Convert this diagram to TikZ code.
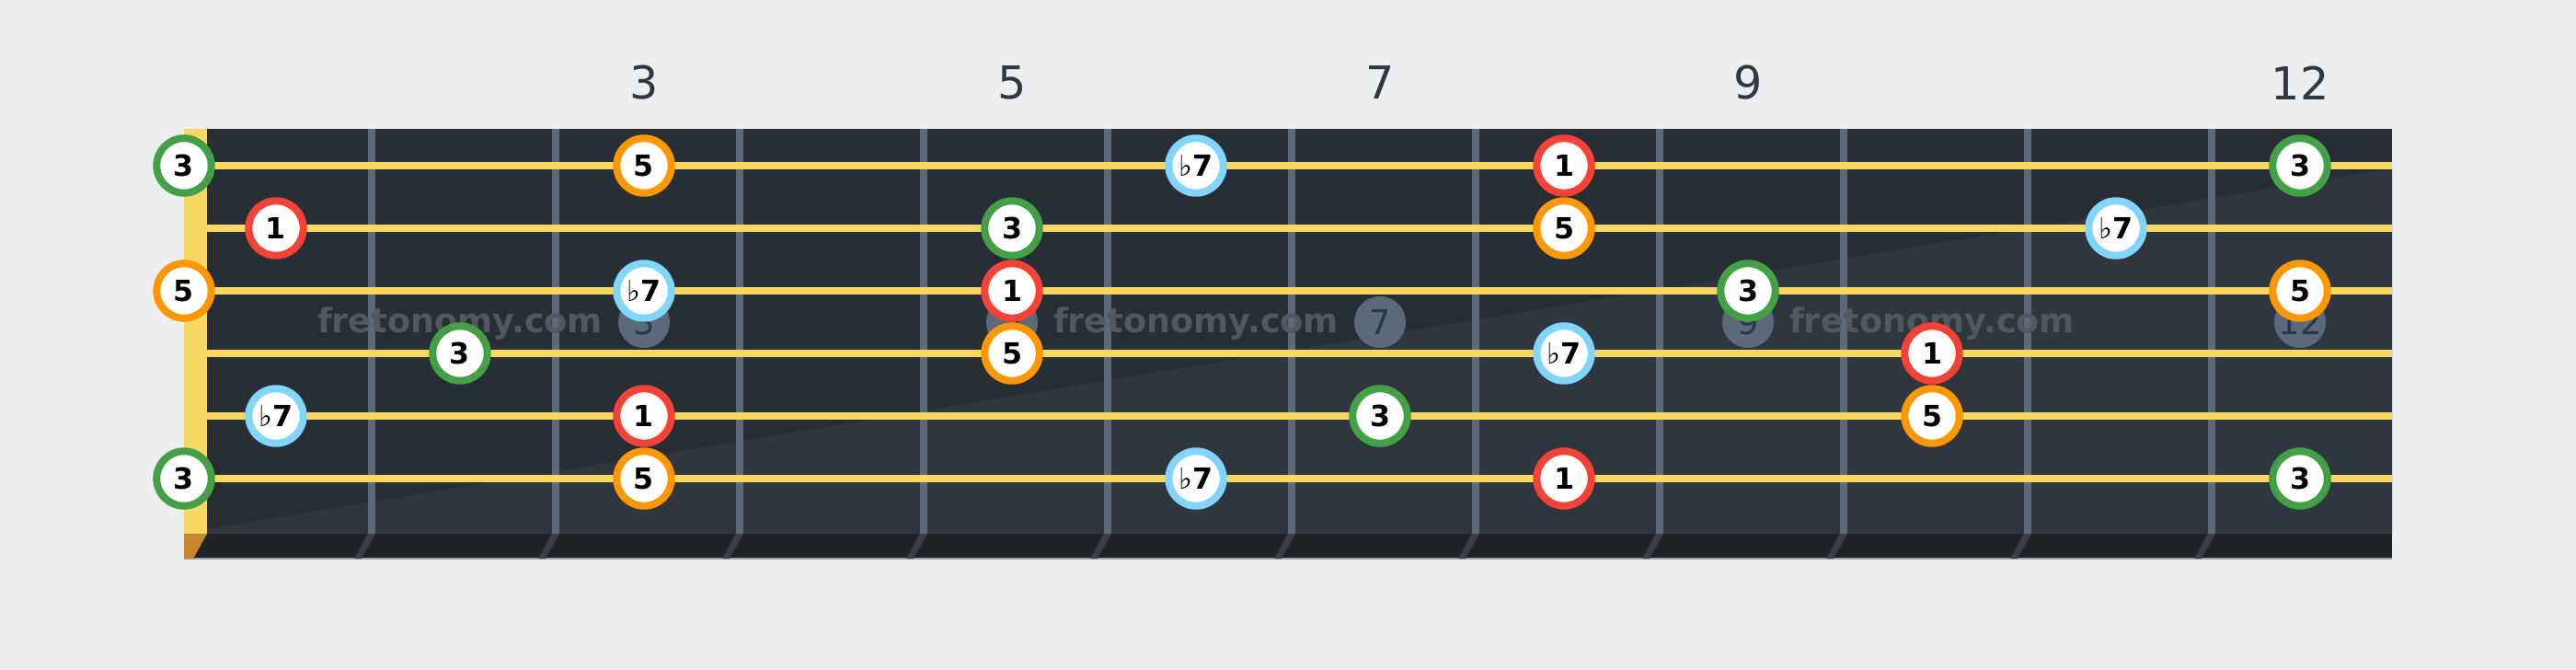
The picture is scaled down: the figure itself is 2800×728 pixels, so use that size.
\documentclass[tikz,border=0pt]{standalone}
\usepackage{fontspec}
\setmainfont{DejaVu Sans}
\newfontfamily\flatfont{DejaVu Sans}
\usepackage{xcolor}
\usepackage{tikz}
\usetikzlibrary{positioning}

\definecolor{pageBg}{HTML}{EDEEF0}
\definecolor{boardDark}{HTML}{282E36}
\definecolor{boardLight}{HTML}{30363E}
\definecolor{boardEdge}{HTML}{1F2327}
\definecolor{fretGray}{HTML}{5A6A7A}
\definecolor{fretFoot}{HTML}{3A3F46}
\definecolor{stringYellow}{HTML}{F6D863}
\definecolor{nutOrange}{HTML}{C8862E}
\definecolor{edgeLine}{HTML}{9AA5AE}
\definecolor{rootRed}{HTML}{F44336}
\definecolor{thirdGreen}{HTML}{43A047}
\definecolor{fifthOrange}{HTML}{FF9800}
\definecolor{seventhBlue}{HTML}{81D4FA}
\definecolor{labelInk}{HTML}{2E3842}
\definecolor{markInk}{HTML}{2D3640}
\definecolor{waterInk}{HTML}{51585F}

% flat sign, kept out of the box height
\newcommand{\fl}{\smash{{\flatfont\mdseries\char"266D}}}

\tikzset{
	note/.style={circle,draw,fill=white,line width=0.08cm,minimum size=0.594cm,inner sep=0pt,font=\fontsize{9}{9}\selectfont\bfseries},
	root/.style={note,draw=rootRed},
	third/.style={note,draw=thirdGreen},
	fifth/.style={note,draw=fifthOrange},
	seventh/.style={note,draw=seventhBlue},
	inlay/.style={circle,fill=fretGray,minimum size=0.56cm,inner sep=0pt,text=markInk,font=\fontsize{10.5}{10.5}\selectfont},
	fretnum/.style={text=labelInk,inner sep=0pt,font=\fontsize{14}{14}\selectfont},
	watermark/.style={anchor=base,text=waterInk,inner sep=0pt,font=\fontsize{10.4}{10.4}\selectfont\bfseries}
}

\begin{document}
\begin{tikzpicture}[x=0.01cm,y=-0.01cm]
	% page
	\fill[pageBg] (0,0) rectangle (2800,728);
	\useasboundingbox (0,0) rectangle (2800,728);
	
	% board, its lighter lower half and the bottom edge
	\fill[boardDark] (225,140) rectangle (2600,580);
	\fill[boardLight] (225,575) -- (2600,183) -- (2600,580) -- (225,580) -- cycle;
	\fill[boardEdge] (200,580) rectangle (2600,607);
	\draw[edgeLine, line width=0.02cm] (200,607.5) -- (2600,607.5);
	
	% nut
	\fill[stringYellow] (200,140) rectangle (225,580);
	\fill[nutOrange] (200,580) -- (225,580) -- (210,607) -- (200,607) -- cycle;
	
	% frets
	\foreach \f in {1,...,11} {
		\fill[fretGray] (200*\f+200,140) rectangle (200*\f+208,580);
		\fill[fretFoot] (200*\f+200,580) -- (200*\f+208,580) -- (200*\f+193,607) -- (200*\f+185,607) -- cycle;
	}
	
	% inlays
	\node[inlay] (in3) at (700,350) {3};
	\node[inlay] (in5) at (1100,350) {5};
	\node[inlay] (in7) at (1500,350) {7};
	\node[inlay] (in9) at (1900,350) {9};
	\node[inlay] (in12) at (2500,350) {12};
	
	% watermark
	\node[watermark] (wm1) at (500,362) {fretonomy.com};
	\node[watermark] (wm2) at (1300,362) {fretonomy.com};
	\node[watermark] (wm3) at (2100,362) {fretonomy.com};
	
	% strings
	\foreach \y in {180,248,316,384,452,520}
		\fill[stringYellow] (225,\y-4) rectangle (2600,\y+4);
	
	% fret numbers
	\node[fretnum] (lab3) at (700,90) {3};
	\node[fretnum] (lab5) at (1100,90) {5};
	\node[fretnum] (lab7) at (1500,90) {7};
	\node[fretnum] (lab9) at (1900,90) {9};
	\node[fretnum] (lab12) at (2500,90) {12};
	
	% string 1
	\node[third] (s1f0) at (200,180) {3};
	\node[fifth] (s1f3) at (700,180) {5};
	\node[seventh] (s1f6) at (1300,180) {\fl7};
	\node[root] (s1f8) at (1700,180) {1};
	\node[third] (s1f12) at (2500,180) {3};
	% string 2
	\node[root] (s2f1) at (300,248) {1};
	\node[third] (s2f5) at (1100,248) {3};
	\node[fifth] (s2f8) at (1700,248) {5};
	\node[seventh] (s2f11) at (2300,248) {\fl7};
	% string 3
	\node[fifth] (s3f0) at (200,316) {5};
	\node[seventh] (s3f3) at (700,316) {\fl7};
	\node[root] (s3f5) at (1100,316) {1};
	\node[third] (s3f9) at (1900,316) {3};
	\node[fifth] (s3f12) at (2500,316) {5};
	% string 4
	\node[third] (s4f2) at (500,384) {3};
	\node[fifth] (s4f5) at (1100,384) {5};
	\node[seventh] (s4f8) at (1700,384) {\fl7};
	\node[root] (s4f10) at (2100,384) {1};
	% string 5
	\node[seventh] (s5f1) at (300,452) {\fl7};
	\node[root] (s5f3) at (700,452) {1};
	\node[third] (s5f7) at (1500,452) {3};
	\node[fifth] (s5f10) at (2100,452) {5};
	% string 6
	\node[third] (s6f0) at (200,520) {3};
	\node[fifth] (s6f3) at (700,520) {5};
	\node[seventh] (s6f6) at (1300,520) {\fl7};
	\node[root] (s6f8) at (1700,520) {1};
	\node[third] (s6f12) at (2500,520) {3};
\end{tikzpicture}
\end{document}
